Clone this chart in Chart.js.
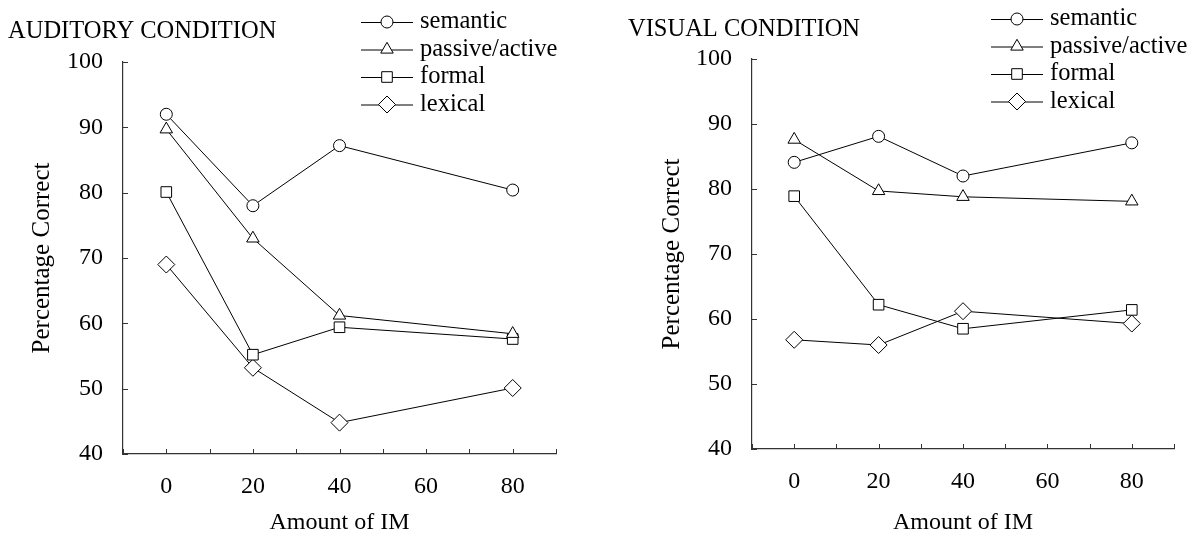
<!DOCTYPE html>
<html>
<head>
<meta charset="utf-8">
<script src="https://cdn.jsdelivr.net/npm/chart.js@4"></script>
<style>
  body { margin: 0; background: #fff; }
  #wrap { position: relative; width: 1192px; height: 534px; }
  canvas { position: absolute; top: 0; }
</style>
</head>
<body>
<div id="wrap">
  <canvas id="chart_auditory" width="596" height="534" style="left:0"></canvas>
  <canvas id="chart_visual" width="596" height="534" style="left:596px"></canvas>
</div>
<script>
// x positions (amount of IM) and series names
var amountIM = [0, 20, 40, 80];
var seriesNames = ['semantic', 'passive/active', 'formal', 'lexical'];

// auditory condition, percentage correct
var auditorySemantic = [92.0, 78.0, 87.2, 80.4];
var auditoryPassive  = [89.7, 73.0, 61.2, 58.4];
var auditoryFormal   = [80.1, 55.2, 59.4, 57.6];
var auditoryLexical  = [69.0, 53.2, 44.8, 50.1];

// visual condition, percentage correct
var visualSemantic = [84.1, 88.1, 82.0, 87.1];
var visualPassive  = [87.6, 79.7, 78.8, 78.1];
var visualFormal   = [78.9, 62.2, 58.5, 61.4];
var visualLexical  = [56.8, 56.0, 61.2, 59.3];

var xTickLabels = [0, 20, 40, 60, 80];

var pointStyles = ['circle', 'triangle', 'rect', 'rectRot'];
var pointSizes = [6, 7.2, 7.5, 8.5];
var serif = "'Liberation Serif', 'Times New Roman', serif";

function makeDatasets(seriesList) {
  return seriesList.map(function (values, i) {
    return {
      label: seriesNames[i],
      data: amountIM.map(function (x, j) { return { x: x, y: values[j] }; }),
      borderColor: '#000',
      borderWidth: 1,
      tension: 0,
      pointStyle: pointStyles[i],
      pointRadius: pointSizes[i],
      pointBackgroundColor: '#fff',
      pointBorderColor: '#000',
      pointBorderWidth: 1,
      clip: false
    };
  });
}

// draws inward tick marks, the panel title and the line+marker legend
function panelDecor(panel) {
  return {
    id: 'panelDecor',
    afterDraw: function (chart) {
      var ctx = chart.ctx, xs = chart.scales.x, ys = chart.scales.y;
      ctx.save();
      ctx.strokeStyle = '#333';
      ctx.lineWidth = 1;
      ctx.beginPath();
      xs.ticks.forEach(function (t) {
        var px = Math.round(xs.getPixelForValue(t.value)) + 0.5;
        ctx.moveTo(px, ys.bottom);
        ctx.lineTo(px, ys.bottom - 5);
      });
      ys.ticks.forEach(function (t) {
        var py = Math.round(ys.getPixelForValue(t.value)) + 0.5;
        ctx.moveTo(xs.left, py);
        ctx.lineTo(xs.left + 5, py);
      });
      ctx.stroke();

      ctx.fillStyle = '#000';
      ctx.font = '24.5px ' + serif;
      ctx.textAlign = 'left';
      ctx.textBaseline = 'middle';
      ctx.fillText(panel.title, panel.titleX, panel.titleY);

      chart.data.datasets.forEach(function (ds, i) {
        var ly = panel.legendY + i * 27.5;
        var lx = panel.legendX;
        ctx.strokeStyle = '#000';
        ctx.beginPath();
        ctx.moveTo(lx, ly + 0.5);
        ctx.lineTo(lx + 52, ly + 0.5);
        ctx.stroke();
        ctx.fillStyle = '#fff';
        Chart.helpers.drawPoint(ctx, { pointStyle: ds.pointStyle, radius: ds.pointRadius, borderWidth: 1, rotation: 0 }, lx + 26, ly);
        ctx.fillStyle = '#000';
        ctx.fillText(ds.label, lx + 59, ly);
      });
      ctx.restore();
    }
  };
}

function makeChart(canvasId, seriesList, panel) {
  return new Chart(document.getElementById(canvasId).getContext('2d'), {
    type: 'line',
    data: { datasets: makeDatasets(seriesList) },
    options: {
      responsive: false,
      animation: false,
      devicePixelRatio: 1,
      layout: { padding: { left: 0, top: panel.top, right: panel.right, bottom: 0 } },
      plugins: { legend: { display: false }, tooltip: { enabled: false } },
      scales: {
        x: {
          type: 'linear',
          min: -10,
          max: 90,
          afterFit: function (scale) { scale.height = panel.xHeight; },
          grid: { drawOnChartArea: false, drawTicks: false },
          border: { display: true, color: '#333', width: 1.2 },
          ticks: {
            stepSize: 10,
            autoSkip: false,
            maxRotation: 0,
            padding: 18,
            color: '#000',
            font: { family: serif, size: 24 },
            callback: function (v) { return xTickLabels.indexOf(v) >= 0 ? String(v) : ''; }
          },
          title: { display: true, text: 'Amount of IM', color: '#000', font: { family: serif, size: 24 }, padding: { top: 0, bottom: -3 } }
        },
        y: {
          min: 40,
          max: 100,
          afterFit: function (scale) { scale.width = panel.yWidth; },
          grid: { drawOnChartArea: false, drawTicks: false },
          border: { display: true, color: '#333', width: 1.2 },
          ticks: { stepSize: 10, padding: 20, color: '#000', font: { family: serif, size: 24 } },
          title: { display: true, text: 'Percentage Correct', color: '#000', font: { family: serif, size: 25 }, padding: { top: panel.yTitlePad, bottom: 0 } }
        }
      }
    },
    plugins: [panelDecor(panel)]
  });
}

makeChart('chart_auditory', [auditorySemantic, auditoryPassive, auditoryFormal, auditoryLexical], {
  title: 'AUDITORY CONDITION', titleX: 8, titleY: 32,
  legendX: 361, legendY: 22,
  top: 62, right: 40, yWidth: 123, xHeight: 80, yTitlePad: 27
});

makeChart('chart_visual', [visualSemantic, visualPassive, visualFormal, visualLexical], {
  title: 'VISUAL CONDITION', titleX: 32, titleY: 30,
  legendX: 395, legendY: 19,
  top: 59, right: 7, yWidth: 156, xHeight: 85, yTitlePad: 61
});
</script>
</body>
</html>
